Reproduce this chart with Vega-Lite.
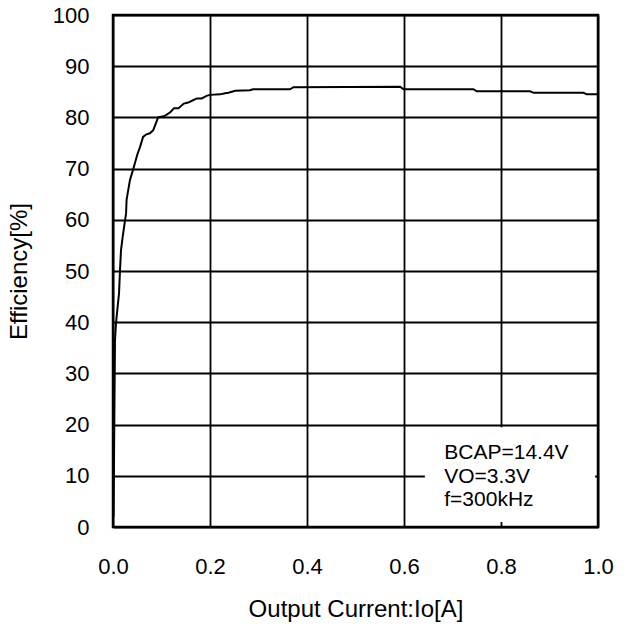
{
  "$schema": "https://vega.github.io/schema/vega-lite/v6.json",
  "autosize": {"type": "none"},
  "width": 485,
  "height": 512,
  "padding": {"left": 113, "top": 15, "right": 29, "bottom": 101},
  "background": "white",
  "config": {
    "font": "Liberation Sans",
    "view": {"stroke": "black", "strokeWidth": 2.5},
    "axis": {
      "domain": false,
      "ticks": false,
      "grid": true,
      "gridColor": "black",
      "gridWidth": 1.8,
      "gridOpacity": 1,
      "labelColor": "black",
      "labelFont": "Liberation Sans",
      "labelFontSize": 22,
      "labelFlush": false,
      "labelOverlap": false,
      "titleColor": "black",
      "titleFont": "Liberation Sans",
      "titleFontSize": 24,
      "titleFontWeight": "normal"
    }
  },
  "datasets": {
    "curve": [
      {"io": 0.001, "eff": 2},
      {"io": 0.002, "eff": 12},
      {"io": 0.003, "eff": 24},
      {"io": 0.0041, "eff": 36.5},
      {"io": 0.0062, "eff": 39.8},
      {"io": 0.0089, "eff": 42.4},
      {"io": 0.0124, "eff": 45.6},
      {"io": 0.0144, "eff": 50.1},
      {"io": 0.0165, "eff": 54.1},
      {"io": 0.020, "eff": 56.7},
      {"io": 0.025, "eff": 60.0},
      {"io": 0.027, "eff": 61.3},
      {"io": 0.028, "eff": 63.9},
      {"io": 0.035, "eff": 67.8},
      {"io": 0.042, "eff": 70.0},
      {"io": 0.045, "eff": 71.0},
      {"io": 0.050, "eff": 72.7},
      {"io": 0.056, "eff": 74.3},
      {"io": 0.062, "eff": 76.2},
      {"io": 0.069, "eff": 76.7},
      {"io": 0.076, "eff": 76.9},
      {"io": 0.083, "eff": 77.5},
      {"io": 0.087, "eff": 78.5},
      {"io": 0.093, "eff": 80.0},
      {"io": 0.107, "eff": 80.3},
      {"io": 0.118, "eff": 81.0},
      {"io": 0.126, "eff": 81.8},
      {"io": 0.135, "eff": 81.8},
      {"io": 0.146, "eff": 82.7},
      {"io": 0.155, "eff": 82.9},
      {"io": 0.166, "eff": 83.4},
      {"io": 0.173, "eff": 83.7},
      {"io": 0.183, "eff": 83.7},
      {"io": 0.193, "eff": 84.2},
      {"io": 0.200, "eff": 84.4},
      {"io": 0.221, "eff": 84.5},
      {"io": 0.231, "eff": 84.7},
      {"io": 0.238, "eff": 84.8},
      {"io": 0.252, "eff": 85.2},
      {"io": 0.282, "eff": 85.3},
      {"io": 0.289, "eff": 85.5},
      {"io": 0.365, "eff": 85.5},
      {"io": 0.372, "eff": 85.9},
      {"io": 0.592, "eff": 86.0},
      {"io": 0.599, "eff": 85.5},
      {"io": 0.743, "eff": 85.5},
      {"io": 0.750, "eff": 85.1},
      {"io": 0.860, "eff": 85.1},
      {"io": 0.867, "eff": 84.8},
      {"io": 0.970, "eff": 84.8},
      {"io": 0.977, "eff": 84.5},
      {"io": 1.0, "eff": 84.5}
    ],
    "box": [{"x1": 0.643, "x2": 0.994, "y1": 1, "y2": 19.5}],
    "notes": [
      {"label": "BCAP=14.4V", "x": 0.683, "y": 14.4},
      {"label": "VO=3.3V", "x": 0.683, "y": 9.8},
      {"label": "f=300kHz", "x": 0.683, "y": 5.2}
    ]
  },
  "layer": [
    {
      "data": {"name": "curve"},
      "mark": {"type": "line", "color": "black", "strokeWidth": 2, "interpolate": "linear"},
      "encoding": {
        "x": {
          "field": "io", "type": "quantitative",
          "scale": {"domain": [0, 1], "nice": false},
          "axis": {"values": [0, 0.2, 0.4, 0.6, 0.8, 1.0], "format": ".1f", "title": "Output Current:Io[A]", "labelPadding": 29, "titlePadding": 20}
        },
        "y": {
          "field": "eff", "type": "quantitative",
          "scale": {"domain": [0, 100], "nice": false},
          "axis": {"values": [0, 10, 20, 30, 40, 50, 60, 70, 80, 90, 100], "title": "Efficiency[%]", "labelPadding": 24, "titlePadding": 21}
        }
      }
    },
    {
      "data": {"name": "box"},
      "mark": {"type": "rect", "fill": "white", "stroke": null},
      "encoding": {
        "x": {"field": "x1", "type": "quantitative"},
        "x2": {"field": "x2"},
        "y": {"field": "y1", "type": "quantitative"},
        "y2": {"field": "y2"}
      }
    },
    {
      "data": {"name": "notes"},
      "mark": {"type": "text", "align": "left", "baseline": "middle", "fontSize": 21, "font": "Liberation Sans", "color": "black"},
      "encoding": {
        "x": {"field": "x", "type": "quantitative"},
        "y": {"field": "y", "type": "quantitative"},
        "text": {"field": "label"}
      }
    }
  ]
}
